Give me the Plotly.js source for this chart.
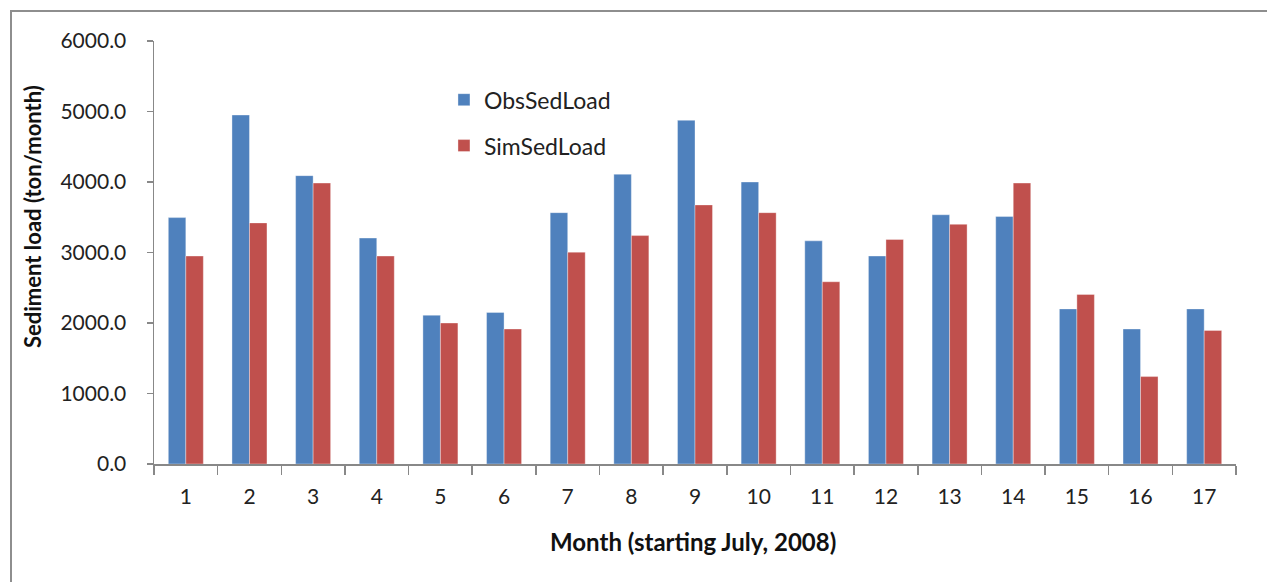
<!DOCTYPE html>
<html>
<head>
<meta charset="utf-8">
<script src="https://cdn.plot.ly/plotly-3.0.1.min.js"></script>
<style>
  html, body { margin: 0; padding: 0; background: #ffffff; }
  #chart { width: 1267px; height: 582px; }
  #frame { position: absolute; left: 10px; top: 10px; width: 1300px; height: 600px;
           border-top: 2px solid #8e8e8e; border-left: 2px solid #8e8e8e; pointer-events: none; }
</style>
</head>
<body>
<div id="chart"></div>
<div id="frame"></div>
<script>
const months = ['1','2','3','4','5','6','7','8','9','10','11','12','13','14','15','16','17'];
const obsSedLoad = [3495, 4950, 4090, 3205, 2110, 2150, 3565, 4110, 4875, 4000, 3165, 2950, 3535, 3510, 2200, 1915, 2200];
const simSedLoad = [2950, 3420, 3985, 2950, 2000, 1915, 3005, 3240, 3675, 3565, 2585, 3185, 3400, 3985, 2405, 1240, 1895];
const seriesNames = ['ObsSedLoad', 'SimSedLoad'];
const yTitle = 'Sediment load (ton/month)';
const xTitle = 'Month (starting July, 2008)';

const FONT = 'Lato, "Open Sans", sans-serif';
const AXIS = '#888888';

const traces = [
  { type: 'bar', name: seriesNames[0], x: months, y: obsSedLoad, legendgroup: 'a',
    marker: { color: '#4F81BD', line: { color: 'rgba(255,255,255,0.35)', width: 1 } } },
  { type: 'bar', name: seriesNames[1], x: months, y: simSedLoad, legendgroup: 'b',
    marker: { color: '#C0504D', line: { color: 'rgba(255,255,255,0.35)', width: 1 } } }
];

const layout = {
  width: 1267, height: 582,
  margin: { l: 154, r: 31, t: 41, b: 118 },
  paper_bgcolor: '#ffffff', plot_bgcolor: '#ffffff',
  font: { family: FONT, size: 21, color: '#222222' },
  barmode: 'group', bargap: 0.45, bargroupgap: 0,
  showlegend: true,
  legend: { x: 0.268, y: 0.912, xanchor: 'left', yanchor: 'top',
            bgcolor: 'rgba(0,0,0,0)', font: { family: FONT, size: 23, color: '#222222' },
            traceorder: 'grouped', tracegroupgap: 13 },
  xaxis: { type: 'category', showline: true, linecolor: AXIS, linewidth: 1.5,
           ticks: 'outside', tickson: 'boundaries', ticklen: 9, tickcolor: AXIS, tickwidth: 1.5,
           showgrid: false, zeroline: false, ticklabelstandoff: 13,
           tickfont: { family: FONT, size: 21, color: '#222222' } },
  yaxis: { range: [0, 6000], dtick: 1000, tickformat: '.1f', showline: true, linecolor: AXIS, linewidth: 1.5,
           ticks: 'outside', ticklen: 6, tickcolor: AXIS, tickwidth: 1.5,
           showgrid: false, zeroline: false, ticklabelstandoff: 16,
           tickfont: { family: FONT, size: 21, color: '#222222' } },
  annotations: [
    { text: '<b>' + yTitle + '</b>', xref: 'paper', yref: 'paper', x: -0.1118, y: 0.584,
      xanchor: 'center', yanchor: 'middle', textangle: -90, showarrow: false,
      font: { family: FONT, size: 22, color: '#111111' } },
    { text: '<b>' + xTitle + '</b>', xref: 'paper', yref: 'paper', x: 0.4982, y: -0.1836,
      xanchor: 'center', yanchor: 'middle', showarrow: false,
      font: { family: FONT, size: 24, color: '#111111' } }
  ]
};

Plotly.newPlot('chart', traces, layout, { displayModeBar: false, staticPlot: true });
</script>
</body>
</html>
